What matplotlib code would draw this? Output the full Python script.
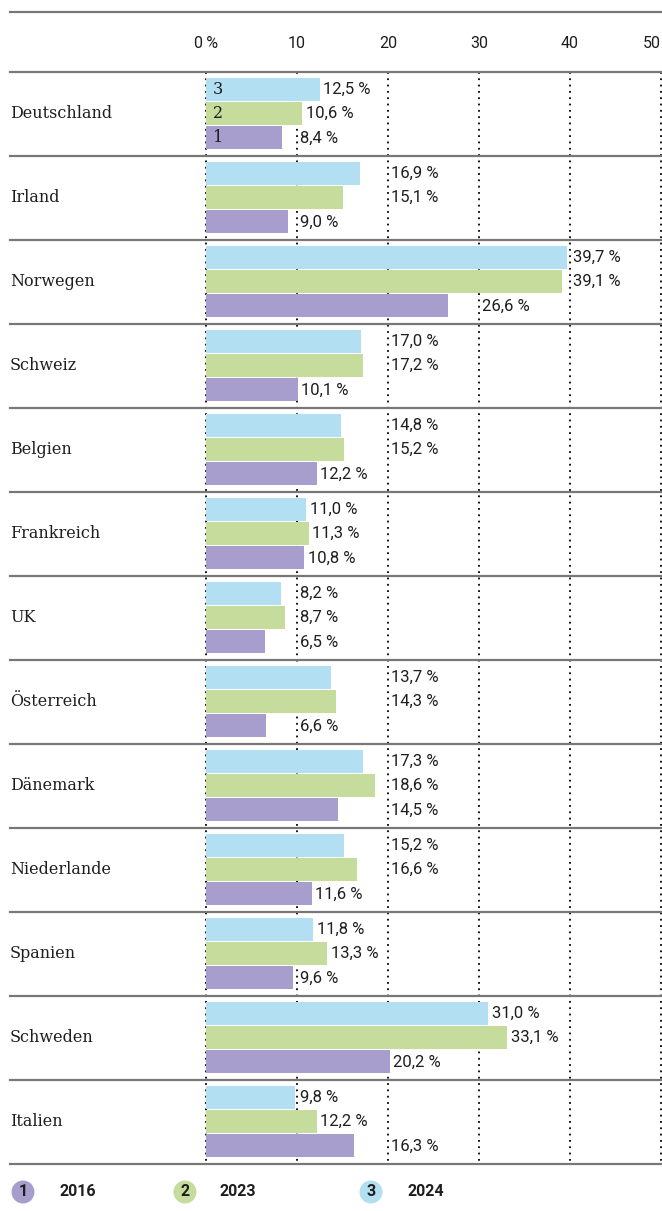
import numpy as np
import matplotlib
matplotlib.use("Agg")
import matplotlib.pyplot as plt
from matplotlib.transforms import blended_transform_factory

# Anteil in Prozent je Land und Jahr
countries = ["Deutschland", "Irland", "Norwegen", "Schweiz", "Belgien", "Frankreich",
             "UK", "Österreich", "Dänemark", "Niederlande", "Spanien", "Schweden", "Italien"]
v2016 = [8.4, 9.0, 26.6, 10.1, 12.2, 10.8, 6.5, 6.6, 14.5, 11.6, 9.6, 20.2, 16.3]
v2023 = [10.6, 15.1, 39.1, 17.2, 15.2, 11.3, 8.7, 14.3, 18.6, 16.6, 13.3, 33.1, 12.2]
v2024 = [12.5, 16.9, 39.7, 17.0, 14.8, 11.0, 8.2, 13.7, 17.3, 15.2, 11.8, 31.0, 9.8]
years = ["2016", "2023", "2024"]
ticks = [0, 10, 20, 30, 40, 50]

c_purple = "#a89ecd"
c_green = "#c6dc9c"
c_blue = "#b2dff1"
line_gray = "#777777"
ink = "#1e1e1e"

W, H = 662, 1211
fig = plt.figure(figsize=(W / 100, H / 100), dpi=100)

def fx(px):
    return px / W

def fy(px):
    return 1 - px / H

top_px, bot_px = 72, 1164
ax = fig.add_axes([fx(206), fy(bot_px), fx(661) - fx(206), (bot_px - top_px) / H])
n = len(countries)
ax.set_xlim(0, 50)
ax.set_ylim(n, 0)
ax.axis("off")

label_font = ["Roboto", "DejaVu Sans"]
serif_font = "DejaVu Serif"

# dotted vertical grid with tick labels above
head = blended_transform_factory(ax.transData, ax.transAxes)
for t in ticks:
    ax.plot([t, t], [0, n], color="black", lw=1.3, ls=(0, (1, 2.5)), clip_on=False, zorder=1)
    lab = "0\u2009%" if t == 0 else str(t)
    ax.text(t, 1 + (top_px - 43) / (bot_px - top_px), lab, transform=head,
            ha="right" if t == ticks[-1] else "center", va="center",
            fontsize=11.5, family=label_font, color=ink)

# horizontal separators, full width
sep = blended_transform_factory(fig.transFigure, ax.transData)
for i in range(n + 1):
    ax.plot([fx(10), 1], [i, i], color=line_gray, lw=1.6, transform=sep, clip_on=False, zorder=3)
fig.add_artist(plt.Line2D([fx(10), 1], [fy(12), fy(12)], color=line_gray, lw=1.6))

bh = 0.275
offsets = {"2024": -0.29, "2023": 0.0, "2016": 0.29}
series = {"2016": (v2016, c_purple), "2023": (v2023, c_green), "2024": (v2024, c_blue)}
y = np.arange(n) + 0.5 - 0.005


def label_x(v):
    # label sits at the bar end if it clears the gridline, else after the next gridline
    frac = v - 10 * np.floor(v / 10)
    if v >= 10 and frac < 3.5:
        return v
    return 10 * np.ceil(v / 10)


for yr in years:
    vals, col = series[yr]
    ax.barh(y + offsets[yr], vals, height=bh, color=col, zorder=2)
    for yi, v in zip(y + offsets[yr], vals):
        txt = f"{v:.1f}".replace(".", ",") + " %"
        ax.annotate(txt, (label_x(v), yi), xytext=(2.5, 0), textcoords="offset points",
                    ha="left", va="center", fontsize=12, family=label_font, color=ink,
                    annotation_clip=False, zorder=4)

# series numbers inside the first group
for num, yr in zip(["1", "2", "3"], years):
    ax.annotate(num, (0, y[0] + offsets[yr]), xytext=(5, 0), textcoords="offset points",
                ha="left", va="center", fontsize=11.5, family=serif_font, color=ink, zorder=4)

for yi, name in zip(np.arange(n) + 0.5, countries):
    ax.text(fx(10), yi, name, transform=sep, ha="left", va="center",
            fontsize=11.5, family=serif_font, color=ink)

# legend
for num, yr, col, cx, tx in zip(["1", "2", "3"], years, [c_purple, c_green, c_blue],
                                [23, 185, 371], [60, 219, 408]):
    fig.text(fx(cx), fy(1192), num, ha="center", va="center", fontsize=11.5, fontweight="bold",
             family=label_font, color=ink,
             bbox=dict(boxstyle="circle,pad=0.25", fc=col, ec="none"))
    fig.text(fx(tx), fy(1192), yr, ha="left", va="center", fontsize=11.5, fontweight="bold",
             family=label_font, color=ink)

fig.savefig("out.png", dpi=100)
